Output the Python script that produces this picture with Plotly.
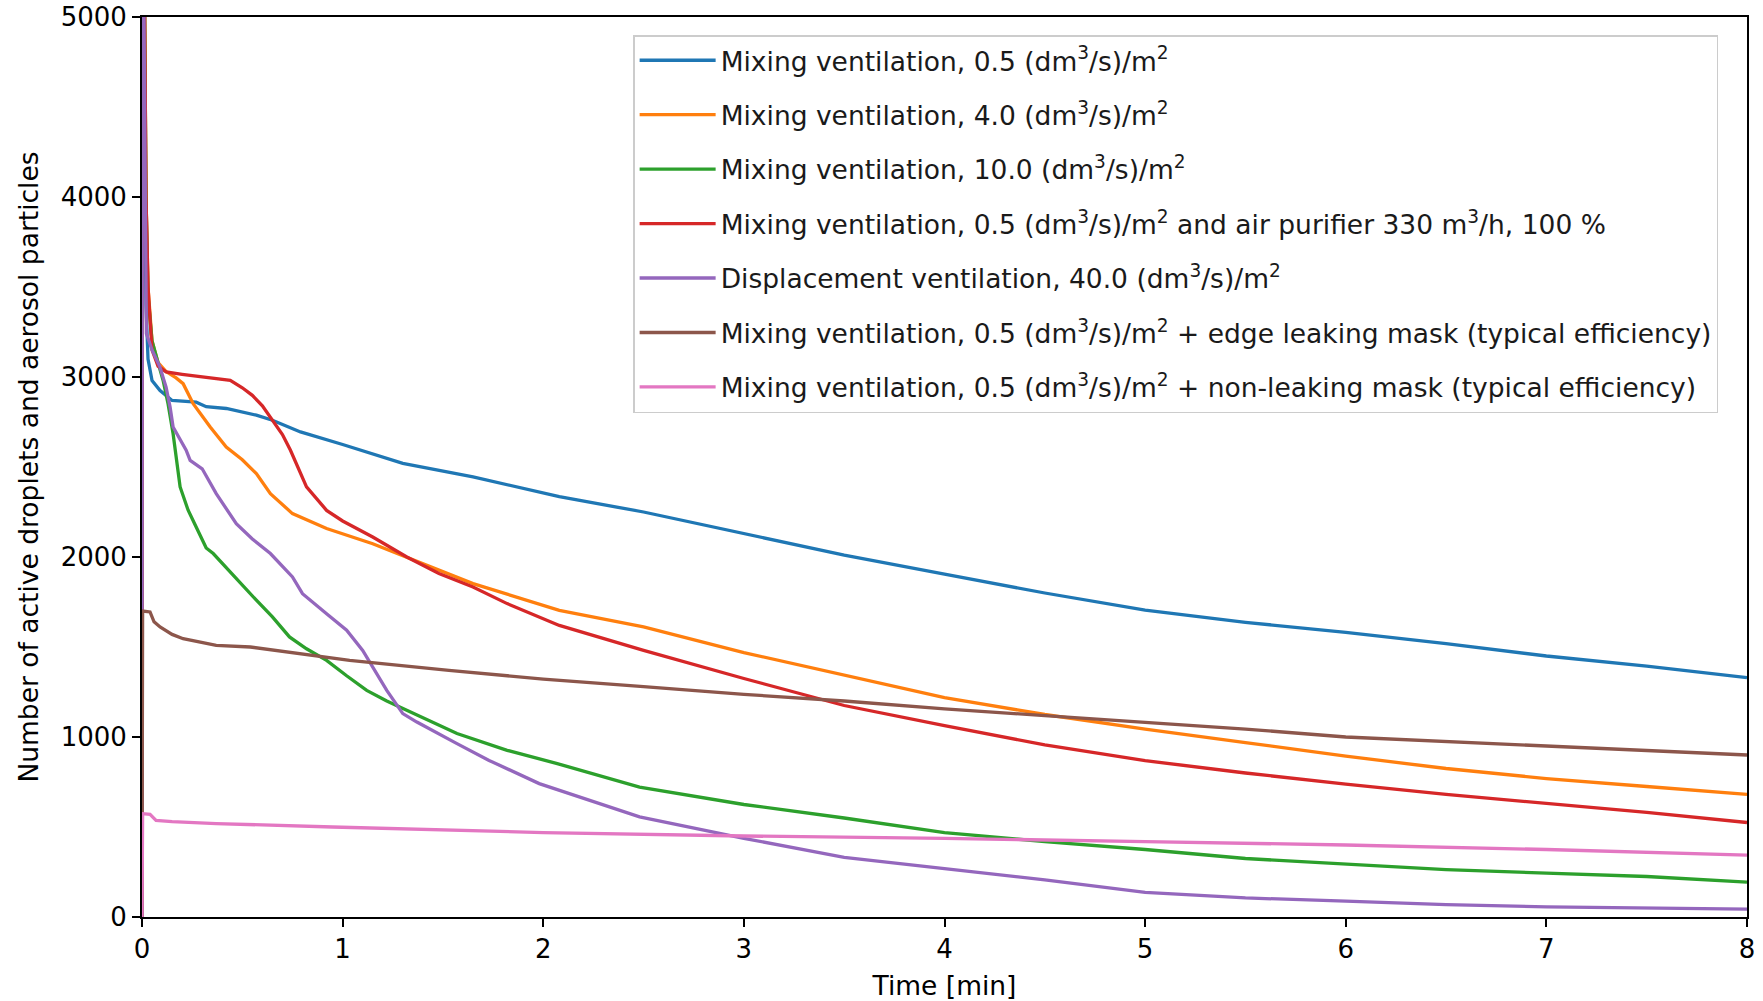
import plotly.graph_objects as go

# ---- data ----
labels = [
    "Mixing ventilation, 0.5 (dm<sup>3</sup>/s)/m<sup>2</sup>",
    "Mixing ventilation, 4.0 (dm<sup>3</sup>/s)/m<sup>2</sup>",
    "Mixing ventilation, 10.0 (dm<sup>3</sup>/s)/m<sup>2</sup>",
    "Mixing ventilation, 0.5 (dm<sup>3</sup>/s)/m<sup>2</sup> and air purifier 330 m<sup>3</sup>/h, 100 %",
    "Displacement ventilation, 40.0 (dm<sup>3</sup>/s)/m<sup>2</sup>",
    "Mixing ventilation, 0.5 (dm<sup>3</sup>/s)/m<sup>2</sup> + edge leaking mask (typical efficiency)",
    "Mixing ventilation, 0.5 (dm<sup>3</sup>/s)/m<sup>2</sup> + non-leaking mask (typical efficiency)",
]
colors = ["#1f77b4", "#ff7f0e", "#2ca02c", "#d62728", "#9467bd", "#8c564b", "#e377c2"]

t_mix05 = [0, 0.005, 0.01, 0.02, 0.03, 0.05, 0.09, 0.15, 0.27, 0.32, 0.42, 0.57, 0.65, 0.79, 1.0,
           1.3, 1.65, 2.08, 2.5, 3.0, 3.5, 4.0, 4.5, 5.0, 5.5, 6.0, 6.5, 7.0, 7.5, 8.0]
v_mix05 = [0, 9000, 4500, 3400, 3100, 2980, 2925, 2870, 2860, 2835, 2825, 2788, 2760, 2695, 2625,
           2520, 2445, 2335, 2250, 2130, 2010, 1905, 1800, 1705, 1637, 1581, 1519, 1450, 1394, 1330]

t_mix40 = [0, 0.005, 0.01, 0.02, 0.03, 0.05, 0.08, 0.12, 0.17, 0.205, 0.255, 0.34, 0.42, 0.5, 0.57,
           0.64, 0.75, 0.92, 1.15, 1.4, 1.65, 2.08, 2.5, 3.0, 3.5, 4.0, 4.5, 5.0, 5.5, 6.0, 6.5,
           7.0, 7.5, 8.0]
v_mix40 = [0, 9000, 5500, 4000, 3500, 3200, 3080, 3030, 2995, 2963, 2852, 2722, 2611, 2540, 2463,
           2352, 2241, 2158, 2074, 1963, 1852, 1704, 1612, 1469, 1344, 1219, 1125, 1044, 969, 894,
           825, 769, 725, 681]

t_mix100 = [0, 0.005, 0.01, 0.02, 0.03, 0.05, 0.072, 0.105, 0.13, 0.155, 0.19, 0.23, 0.27, 0.32,
            0.355, 0.42, 0.49, 0.57, 0.65, 0.735, 0.82, 0.92, 1.02, 1.12, 1.22, 1.32, 1.45, 1.57,
            1.82, 2.07, 2.48, 3.0, 3.5, 4.0, 4.5, 5.0, 5.5, 6.0, 6.5, 7.0, 7.5, 8.0]
v_mix100 = [0, 9000, 5500, 4000, 3450, 3200, 3111, 2982, 2850, 2685, 2389, 2260, 2167, 2050,
            2019, 1940, 1852, 1760, 1667, 1556, 1490, 1426, 1340, 1259, 1200, 1148, 1080, 1019,
            926, 852, 722, 625, 550, 469, 419, 375, 325, 294, 263, 244, 225, 194]

t_purifier = [0, 0.005, 0.01, 0.02, 0.03, 0.05, 0.08, 0.12, 0.2, 0.29, 0.37, 0.44, 0.5, 0.55, 0.6,
              0.64, 0.7, 0.74, 0.82, 0.92, 1.0, 1.15, 1.32, 1.48, 1.65, 1.82, 2.08, 2.5, 3.0, 3.5,
              4.0, 4.5, 5.0, 5.5, 6.0, 6.5, 7.0, 7.5, 8.0]
v_purifier = [0, 9000, 5500, 4000, 3500, 3150, 3060, 3028, 3015, 3004, 2995, 2982, 2940, 2898, 2840,
              2778, 2680, 2593, 2390, 2259, 2200, 2111, 2000, 1908, 1833, 1741, 1620, 1481, 1325, 1175,
              1063, 956, 869, 800, 738, 681, 631, 581, 525]

t_displ = [0, 0.003, 0.01, 0.022, 0.05, 0.072, 0.089, 0.12, 0.14, 0.155, 0.22, 0.24, 0.3, 0.37,
           0.47, 0.55, 0.64, 0.75, 0.8, 0.92, 1.02, 1.1, 1.15, 1.22, 1.3, 1.37, 1.57, 1.73, 1.98,
           2.23, 2.48, 3.0, 3.5, 4.0, 4.5, 5.0, 5.5, 6.0, 6.5, 7.0, 7.5, 8.0]
v_displ = [0, 9000, 5000, 3241, 3150, 3093, 3056, 2944, 2833, 2722, 2593, 2537, 2490, 2352,
           2185, 2100, 2019, 1889, 1796, 1685, 1593, 1481, 1389, 1259, 1130, 1083, 963, 870, 741,
           648, 556, 437, 331, 269, 206, 137, 106, 88, 69, 56, 50, 44]

t_edge_mask = [0, 0.003, 0.04, 0.06, 0.09, 0.15, 0.205, 0.37, 0.54, 0.79, 1.035, 1.53, 2.0, 2.5,
               3.0, 3.5, 4.0, 4.5, 5.0, 5.5, 6.0, 6.5, 7.0, 7.5, 8.0]
v_edge_mask = [0, 1700, 1695, 1640, 1611, 1570, 1546, 1509, 1500, 1463, 1426, 1370, 1322, 1280,
               1237, 1200, 1156, 1119, 1081, 1044, 1000, 975, 950, 925, 900]

t_tight_mask = [0, 0.003, 0.04, 0.07, 0.15, 0.37, 0.95, 1.53, 2.0, 3.0, 4.0, 5.0, 6.0, 7.0, 8.0]
v_tight_mask = [0, 574, 570, 537, 530, 519, 500, 481, 469, 450, 437, 419, 400, 375, 344]

x_ticks = [0, 1, 2, 3, 4, 5, 6, 7, 8]
y_ticks = [0, 1000, 2000, 3000, 4000, 5000]

series_t = [t_mix05, t_mix40, t_mix100, t_purifier, t_displ, t_edge_mask, t_tight_mask]
series_v = [v_mix05, v_mix40, v_mix100, v_purifier, v_displ, v_edge_mask, v_tight_mask]

fig = go.Figure()
for i, (tt, vv) in enumerate(zip(series_t, series_v)):
    fig.add_trace(go.Scatter(
        x=tt, y=vv, mode="lines", name=labels[i], legendgroup=f"g{i}",
        line=dict(color=colors[i], width=3.3),
    ))

axis_common = dict(
    showline=True, linecolor="black", linewidth=2, mirror=True,
    ticks="outside", ticklen=8, tickwidth=2, tickcolor="black",
    showgrid=False, zeroline=False, automargin=False,
    tickfont=dict(family="DejaVu Sans", size=26, color="black"),
)

fig.update_layout(
    width=1763, height=1001,
    margin=dict(l=142, r=16, t=17, b=84),
    plot_bgcolor="white", paper_bgcolor="white",
    font=dict(family="DejaVu Sans", size=26, color="black"),
    xaxis=dict(range=[0, 8], tickvals=x_ticks, ticktext=[str(v) for v in x_ticks],
               title=dict(text="Time [min]", standoff=14,
                          font=dict(family="DejaVu Sans", size=26.5)),
               **axis_common),
    yaxis=dict(range=[0, 5000], tickvals=y_ticks, ticktext=[str(v) for v in y_ticks],
               title=dict(text="Number of active droplets and aerosol particles", standoff=14,
                          font=dict(family="DejaVu Sans", size=26.5)),
               **axis_common),
    legend=dict(
        x=0.306, y=0.980, xanchor="left", yanchor="top",
        bgcolor="rgba(255,255,255,0.85)", bordercolor="#cccccc", borderwidth=1.5,
        font=dict(family="DejaVu Sans", size=26.5, color="#1a1a1a"),
        tracegroupgap=17, itemwidth=76,
    ),
    showlegend=True,
)

fig.write_html("out.html", config={"displayModeBar": False},
               post_script="document.body.style.margin='0px';")
